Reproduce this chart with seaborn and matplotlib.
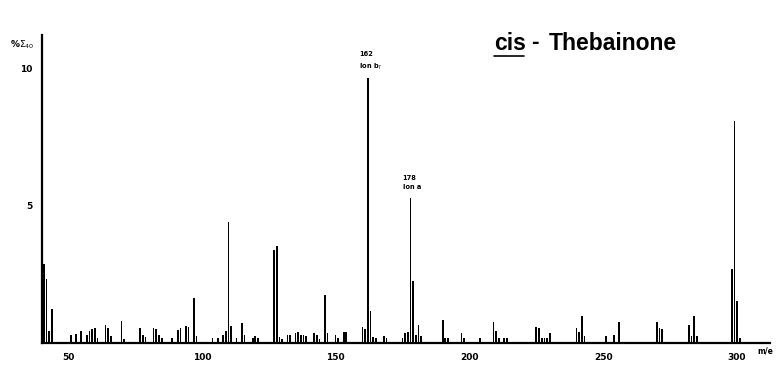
import matplotlib
matplotlib.use('Agg')
import matplotlib.pyplot as plt
import seaborn as sns
from matplotlib.lines import Line2D

# Peak list (m/e, % of total ion current)
mz = [41, 42, 43, 44, 51, 53, 55, 57, 58, 59, 60, 61, 64, 65, 66, 70, 71,
      77, 78, 79, 82, 83, 84, 85, 89, 91, 92, 94, 95, 97, 98, 104, 106,
      108, 109, 110, 111, 113, 115, 116, 119, 120, 121, 127, 128, 129, 130,
      132, 133, 135, 136, 137, 138, 139, 142, 143, 144, 146, 147, 150, 151,
      153, 154, 160, 161, 162, 163, 164, 165, 168, 169, 175, 176, 177, 178,
      179, 180, 181, 182, 190, 191, 192, 197, 198, 204, 209, 210, 211, 213,
      214, 225, 226, 227, 228, 229, 230, 240, 241, 242, 243, 251, 254, 256,
      270, 271, 272, 282, 283, 284, 285, 298, 299, 300, 301]
intensity = [2.9, 2.35, 0.45, 1.25, 0.3, 0.33, 0.42, 0.3, 0.45, 0.5, 0.55, 0.2,
             0.65, 0.55, 0.25, 0.8, 0.15, 0.55, 0.3, 0.23, 0.54, 0.5, 0.3, 0.2,
             0.2, 0.47, 0.55, 0.62, 0.6, 1.64, 0.25, 0.2, 0.2, 0.3, 0.45, 4.4,
             0.62, 0.2, 0.74, 0.3, 0.2, 0.25, 0.2, 3.4, 3.55, 0.22, 0.15, 0.3,
             0.3, 0.35, 0.4, 0.3, 0.3, 0.25, 0.35, 0.3, 0.15, 1.75, 0.35, 0.3,
             0.2, 0.4, 0.4, 0.6, 0.5, 9.67, 1.15, 0.22, 0.2, 0.25, 0.2, 0.2,
             0.35, 0.4, 5.3, 2.25, 0.3, 0.65, 0.25, 0.85, 0.2, 0.2, 0.35, 0.2,
             0.2, 0.75, 0.45, 0.2, 0.2, 0.2, 0.6, 0.55, 0.2, 0.2, 0.2, 0.35,
             0.55, 0.4, 1.0, 0.25, 0.25, 0.3, 0.78, 0.78, 0.55, 0.5, 0.65, 0.25,
             0.98, 0.25, 2.7, 8.1, 1.55, 0.2]

x_ticks = [50, 100, 150, 200, 250, 300]
y_ticks = [5, 10]

sns.set_style('white')
plt.rcParams['font.family'] = ['DejaVu Sans']
plt.rcParams['text.color'] = 'black'
plt.rcParams['xtick.color'] = 'black'
plt.rcParams['ytick.color'] = 'black'

fig = plt.figure(figsize=(7.82, 3.67), dpi=100)
ax = fig.add_axes([42 / 782, 24 / 367, 728 / 782, 308 / 367])

sns.barplot(x=mz, y=intensity, native_scale=True, color='black',
            saturation=1, width=0.65, linewidth=0, errorbar=None, ax=ax)

ax.set_xlim(40.3, 312.3)
ax.set_ylim(0, 11.24)

# axes look
for side in ['top', 'right']:
    ax.spines[side].set_visible(False)
for side in ['left', 'bottom']:
    ax.spines[side].set_linewidth(1.6)
    ax.spines[side].set_color('black')

ax.set_xticks(x_ticks)
ax.set_xticklabels([str(t) for t in x_ticks], fontsize=6.5, fontweight='bold')
ax.set_xticks(range(50, 311, 10), minor=True)
ax.set_yticks(y_ticks)
ax.set_yticklabels([str(t) for t in y_ticks], fontsize=6.5, fontweight='bold')
ax.set_yticks(range(1, 12), minor=True)
ax.tick_params(axis='both', which='major', direction='out', length=4,
               width=1, color='black', pad=3)
ax.tick_params(axis='both', which='minor', direction='out', length=2,
               width=0.8, color='black')
ax.set_xlabel('')
ax.set_ylabel('')

# peak annotations
ax.text(158.8, 9.9, '162\nIon b$_7$', fontsize=4.8, fontweight='bold',
        ha='left', va='bottom', linespacing=1.6)
ax.text(175.0, 5.6, '178\nIon a', fontsize=4.8, fontweight='bold',
        ha='left', va='bottom', linespacing=1.6)

# axis captions
fig.text(22 / 782, 1 - 45 / 367, r'%$\Sigma_{40}$', fontsize=6.5,
         fontweight='bold', ha='center', va='center')
fig.text(765 / 782, 1 - 351 / 367, 'm/e', fontsize=5.5, fontweight='bold',
         ha='center', va='center')

# title with underlined "cis"
title_font = ['Liberation Sans', 'DejaVu Sans']
fig.text(494 / 782, 1 - 43 / 367, 'cis', fontsize=16.5, family=title_font,
         fontweight='bold', ha='left', va='center')
fig.text(531 / 782, 1 - 43 / 367, '-', fontsize=16.5, family=title_font,
         fontweight='bold', ha='left', va='center')
fig.text(549 / 782, 1 - 43 / 367, 'Thebainone', fontsize=16.5,
         family=title_font, fontweight='bold', ha='left', va='center')
fig.add_artist(Line2D([494 / 782, 524 / 782], [1 - 56 / 367, 1 - 56 / 367],
                      transform=fig.transFigure, color='black', linewidth=1.2))

fig.savefig('out.png', dpi=100)
